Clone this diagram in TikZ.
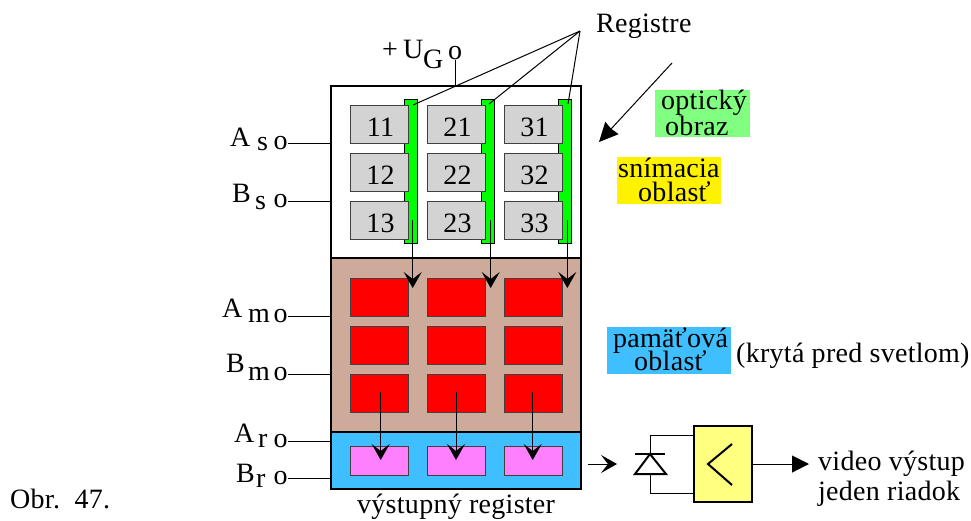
\documentclass[tikz,border=0pt]{standalone}
\usepackage{fontspec}
\setmainfont[LetterSpace=1]{Liberation Serif}
\usetikzlibrary{positioning,arrows.meta,calc}
\definecolor{sensgray}{HTML}{D3D3D3}
\definecolor{membrown}{HTML}{CDAA99}
\definecolor{outblue}{HTML}{3FBFFF}
\definecolor{outpink}{HTML}{FF80FF}
\definecolor{optgreen}{HTML}{80FF80}
\definecolor{ampyellow}{HTML}{FFFF80}

\begin{document}
\begin{tikzpicture}[
    x=1pt, y=-1pt,
    font=\fontsize{28}{30}\selectfont,
    txt/.style={inner sep=0pt, anchor=base west},
    caption/.style={inner sep=0pt, anchor=base west, align=left},
    pinlabel/.style={inner sep=0pt},
    region/.style={draw, line width=2.4pt, inner sep=0pt, minimum width=250pt},
    cell/.style={draw, black!75, line width=1pt, inner sep=0pt, minimum width=58pt,
                 minimum height=38pt, text=black, text height=24pt, text depth=0pt},
    bar/.style={draw, line width=0.8pt, fill=green, inner sep=0pt, minimum width=13pt,
                minimum height=144pt},
    patch/.style={inner sep=0pt},
    wire/.style={line width=1pt},
    move/.style={->, >={Stealth[length=16pt, width=18pt, inset=7pt]}, line width=1pt},
  ]
  \useasboundingbox (0,0) rectangle (971,520);

  % three areas of the chip
  \node[region, fill=white, minimum height=172pt] (sens) at (456,172) {};
  \node[region, fill=membrown, minimum height=174pt] (mem) at (456,345) {};
  \node[region, fill=outblue, minimum height=57pt] (outreg) at (456,460.5) {};

  % registers beside the columns
  \foreach \c/\x in {1/411, 2/487.5, 3/564.5}
    \node[bar] (bar\c) at (\x,171) {};

  % cells of the three areas
  \foreach \c/\x in {1/379, 2/456, 3/533} {
    \foreach \r/\y in {1/124, 2/172, 3/220}
      \node[cell, fill=sensgray] (s\c\r) at (\x,\y) {\hspace*{3pt}\c\r};
    \foreach \r/\y in {1/297, 2/345, 3/393}
      \node[cell, fill=red] (m\c\r) at (\x,\y) {};
    \node[cell, fill=outpink, minimum height=29pt] (r\c) at (\x,460.5) {};
  }

  % shifts between the areas
  \foreach \c/\x in {1/412.7, 2/490.7, 3/567.3} {
    \coordinate (from\c) at (\x,220);
    \coordinate (to\c) at (\x,288);
    \draw[move] (from\c) -- (to\c);
  }
  \foreach \c/\x in {1/380.7, 2/456, 3/532.7} {
    \coordinate (mfrom\c) at (\x,392);
    \coordinate (mto\c) at (\x,460);
    \draw[move] (mfrom\c) -- (mto\c);
  }

  % register pointer
  \node[txt] (regname) at (596,32) {Registre};
  \coordinate (regfan) at (580,31);
  \coordinate (regend1) at (413,105);
  \coordinate (regend2) at (489,104);
  \coordinate (regend3) at (568,104);
  \foreach \c in {1,2,3}
    \draw[wire] (regfan) -- (regend\c);

  % supply
  \node[txt] (ugplus) at (382,58) {+};
  \node[txt] (ugu) at (403,58) {U};
  \node[txt] (ugg) at (423,68) {G};
  \node[pinlabel] (pug) at (455,53) {o};
  \draw[wire] (pug.south) -- (pug.south |- sens.north);

  % clock inputs on the left
  \foreach \n/\l/\s/\lx/\ly/\sx/\sy/\y in {
      as/A/s/230/146/257/150/143,
      bs/B/s/232/202/255/209/201,
      am/A/m/222/317/248/322/316,
      bm/B/m/226/372/248/380/374,
      ar/A/r/234/442/258/447/441,
      br/B/r/236/482/256/487/478} {
    \node[txt] (l\n) at (\lx,\ly) {\l};
    \node[txt] (i\n) at (\sx,\sy) {\s};
    \node[pinlabel] (p\n) at (280.5,\y) {o};
    \draw[wire] (p\n.east) -- (p\n.east -| sens.west);
  }

  % light
  \coordinate (lightfrom) at (672,63);
  \coordinate (lightto) at (599,142);
  \draw[-{Stealth[length=19pt, width=18pt, inset=1pt]}, line width=1pt] (lightfrom) -- (lightto);

  % coloured captions
  \node[patch, fill=optgreen, minimum width=95pt, minimum height=47pt] (optbox) at (702.5,113.5) {};
  \node[caption] (opt) at (661,135) {optický\\[-4pt]\hspace*{4pt}obraz};
  \node[patch, fill=yellow, minimum width=104pt, minimum height=47pt] (snbox) at (669,180.5) {};
  \node[caption] (sn) at (618,201) {snímacia\\[-6pt]\hspace*{20pt}oblasť};
  \node[patch, fill=outblue, minimum width=124pt, minimum height=47pt] (pambox) at (669,350.5) {};
  \node[caption] (pam) at (613,370) {pamäťová\\[-7pt]\hspace*{21pt}oblasť};
  \node[txt] (pamnote) at (736,362) {(krytá pred svetlom)};

  \node[txt] (outname) at (357,513) {výstupný register};
  \node[txt] (figname) at (10,508) {Obr.\ \ 47.};

  % detector and amplifier
  \coordinate (toamp) at (617,464);
  \draw[move] ($(outreg.east)+(6,3.5)$) -- (toamp);
  \node[draw, line width=2pt, fill=ampyellow, inner sep=0pt, minimum width=58pt,
        minimum height=76pt] (amp) at (722.5,464) {};
  \coordinate (anode) at (650,474);
  \coordinate (cathode) at (650,454);
  \draw[wire] (cathode) |- (amp.west |- 0,435);
  \draw[wire] (anode) |- (amp.west |- 0,493);
  \draw[line width=2pt, line join=miter] (635,474) -- (666,474) -- (cathode) -- cycle;
  \draw[line width=2pt] (635,454) -- (665,454);
  \draw[line width=2pt] (732,444) -- (708,464) -- (732,485);
  \coordinate (videoend) at (809,464);
  \draw[-{Stealth[length=17pt, width=17pt, inset=0pt]}, wire] (amp.east) -- (videoend);
  \node[caption] (video) at (818,500) {video výstup\\jeden riadok};
\end{tikzpicture}
\end{document}
